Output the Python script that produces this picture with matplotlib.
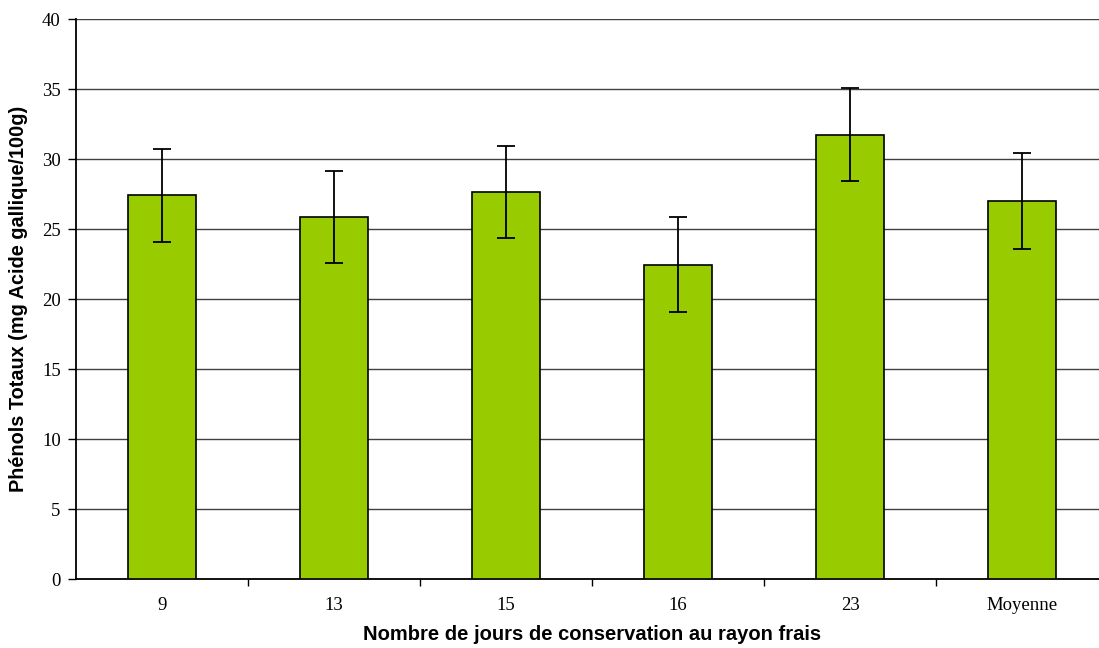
import matplotlib.pyplot as plt
import numpy as np

jours = ['9', '13', '15', '16', '23', 'Moyenne']
phenols = [27.4, 25.85, 27.65, 22.45, 31.75, 27.0]
erreurs = [3.3, 3.3, 3.3, 3.4, 3.3, 3.4]
yticks = [0, 5, 10, 15, 20, 25, 30, 35, 40]

fig = plt.figure(figsize=(10.99, 6.48), dpi=100)
# la zone de tracé dépasse un peu à droite, comme dans l'original
ax = fig.add_axes([76/1099, (648-579)/648, 1032/1099, 560/648])

x = np.arange(len(jours))
ax.bar(x, phenols, width=0.4, color='#99CC00', edgecolor='black', linewidth=1.2, zorder=3)
ax.errorbar(x, phenols, yerr=erreurs, fmt='none', ecolor='black', elinewidth=1.3,
            capsize=6.5, capthick=1.3, zorder=4)

ax.set_xlim(-0.5, len(jours) - 0.5)
ax.set_ylim(0, 40)
ax.set_yticks(yticks)
ax.set_yticklabels([str(v) for v in yticks], family='Liberation Serif', fontsize=13.5)
ax.set_xticks(x)
ax.set_xticklabels(jours, family='Liberation Serif', fontsize=13.5)
ax.set_xticks(x[:-1] + 0.5, minor=True)
ax.tick_params(axis='x', which='major', length=0, pad=13)
ax.tick_params(axis='x', which='minor', length=5, width=1, direction='out')
ax.tick_params(axis='y', length=6, width=1, direction='out', pad=5)

ax.yaxis.grid(True, color='#404040', linewidth=1, zorder=0)
for s in ['top', 'right']:
    ax.spines[s].set_visible(False)
ax.spines['left'].set_linewidth(1.3)
ax.spines['bottom'].set_linewidth(1.3)

ax.set_xlabel('Nombre de jours de conservation au rayon frais', family='Liberation Sans',
              fontsize=14.5, fontweight='bold', labelpad=8)
ax.set_ylabel('Phénols Totaux (mg Acide gallique/100g)', family='Liberation Sans',
              fontsize=14.3, fontweight='bold', labelpad=10)

fig.savefig('out.png', dpi=100)
